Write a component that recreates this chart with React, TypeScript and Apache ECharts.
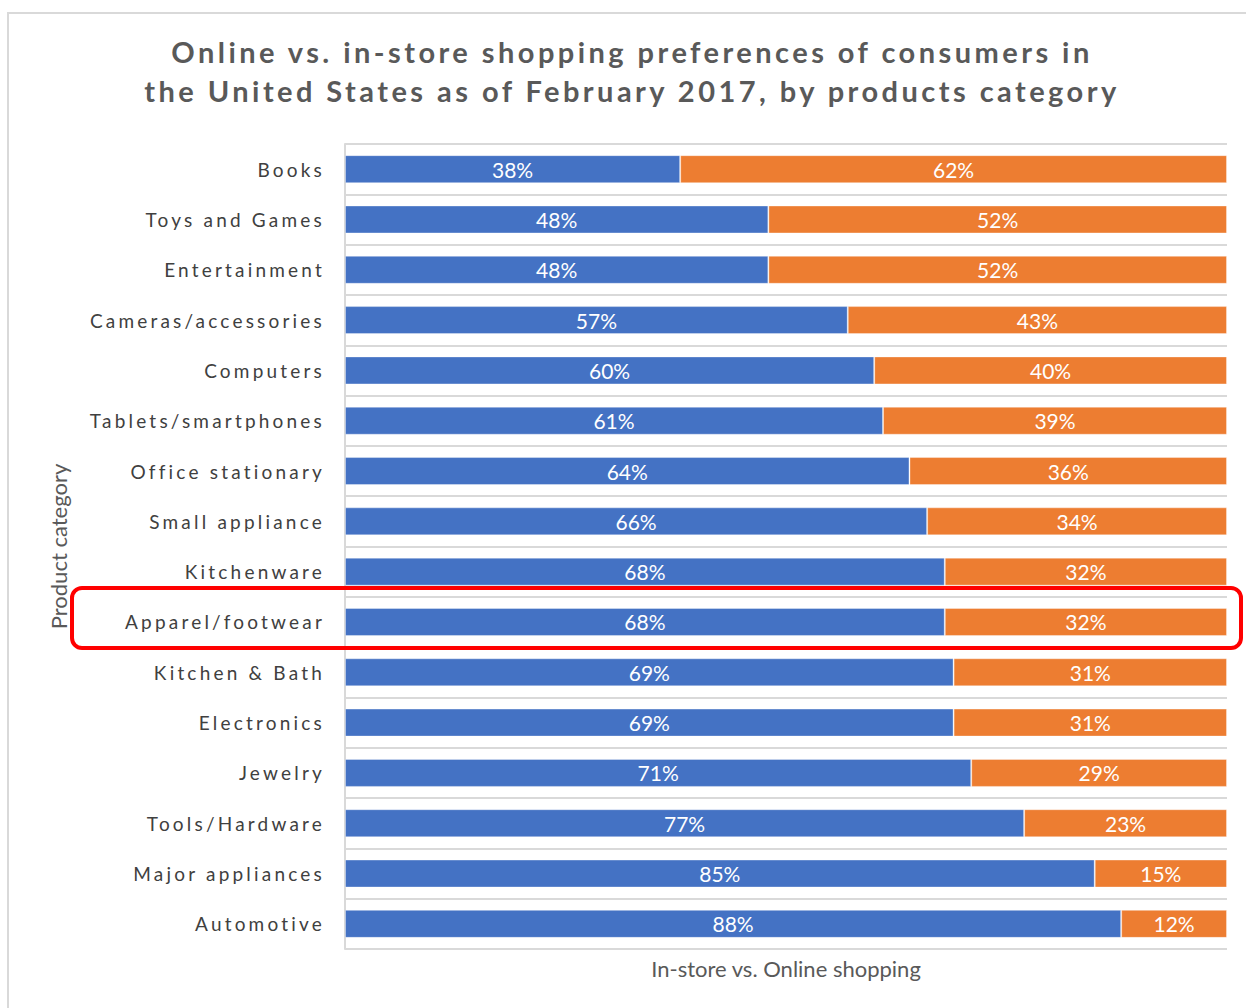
import React, { useEffect, useRef } from "react";
import * as echarts from "echarts";

const categories = [
  "Books",
  "Toys and Games",
  "Entertainment",
  "Cameras/accessories",
  "Computers",
  "Tablets/smartphones",
  "Office stationary",
  "Small appliance",
  "Kitchenware",
  "Apparel/footwear",
  "Kitchen & Bath",
  "Electronics",
  "Jewelry",
  "Tools/Hardware",
  "Major appliances",
  "Automotive",
];
const inStore = [38, 48, 48, 57, 60, 61, 64, 66, 68, 68, 69, 69, 71, 77, 85, 88];
const online = [62, 52, 52, 43, 40, 39, 36, 34, 32, 32, 31, 31, 29, 23, 15, 12];

const TITLE =
  "Online vs. in-store shopping preferences of consumers in\nthe United States as of February 2017, by products category";

const SPACED = "Lato, 'DejaVu Sans'";
const PLAIN = "Lato, sans-serif";

export default function App() {
  const ref = useRef<HTMLDivElement>(null);
  useEffect(() => {
    document.body.style.margin = "0";
    const st = document.createElement("style");
    st.textContent =
      'text[style*="DejaVu"]{letter-spacing:3.2px;} text[style*="DejaVu"][style*="bold"]{letter-spacing:3.45px;}';
    document.head.appendChild(st);
    const chart = echarts.init(ref.current!, null, { renderer: "svg" });
    chart.setOption({
      animation: false,
      backgroundColor: "#ffffff",
      title: {
        text: TITLE,
        left: 627,
        textAlign: "center",
        top: 27,
        textStyle: {
          fontFamily: SPACED,
          fontWeight: "bold",
          fontSize: 29,
          lineHeight: 39,
          color: "#595959",
        },
      },
      grid: { left: 345, right: 19, top: 144, bottom: 59 },
      xAxis: {
        type: "value",
        min: 0,
        max: 100,
        axisLabel: { show: false },
        axisLine: { show: false },
        axisTick: { show: false },
        splitLine: { show: false },
        name: "In-store vs. Online shopping",
        nameLocation: "middle",
        nameGap: 8,
        nameTextStyle: { fontFamily: PLAIN, fontSize: 22, color: "#595959" },
      },
      yAxis: {
        type: "category",
        data: categories,
        inverse: true,
        axisLine: { show: true, lineStyle: { color: "#d9d9d9", width: 2 } },
        axisTick: { show: false },
        splitLine: { show: true, lineStyle: { color: "#d9d9d9", width: 2 } },
        axisLabel: {
          fontFamily: SPACED,
          fontSize: 19,
          color: "#404040",
          margin: 20,
        },
        name: "Product category",
        nameLocation: "middle",
        nameGap: 276,
        nameTextStyle: { fontFamily: PLAIN, fontSize: 22, color: "#595959" },
      },
      series: [
        {
          name: "In-store",
          type: "bar",
          stack: "total",
          data: inStore,
          barWidth: 28,
          itemStyle: { color: "#4472C4", borderColor: "rgba(255,255,255,0.35)", borderWidth: 1 },
          label: {
            show: true,
            position: "inside",
            formatter: "{c}%",
            color: "#ffffff",
            fontFamily: PLAIN,
            fontSize: 21,
          },
        },
        {
          name: "Online",
          type: "bar",
          stack: "total",
          data: online,
          barWidth: 28,
          itemStyle: { color: "#ED7D31", borderColor: "rgba(255,255,255,0.35)", borderWidth: 1 },
          label: {
            show: true,
            position: "inside",
            formatter: "{c}%",
            color: "#ffffff",
            fontFamily: PLAIN,
            fontSize: 21,
          },
        },
      ],
      graphic: [
        {
          type: "rect",
          shape: { x: 8, y: 13, width: 1400, height: 1200 },
          style: { fill: "none", stroke: "#d9d9d9", lineWidth: 2 },
          silent: true,
        },
        {
          type: "rect",
          shape: { x: 72, y: 588, width: 1169, height: 60, r: 10 },
          style: { fill: "none", stroke: "#ff0000", lineWidth: 4 },
          silent: true,
          z: 100,
        },
      ],
    });
    return () => {
      chart.dispose();
      st.remove();
    };
  }, []);
  return <div ref={ref} style={{ width: 1246, height: 1008 }} />;
}
